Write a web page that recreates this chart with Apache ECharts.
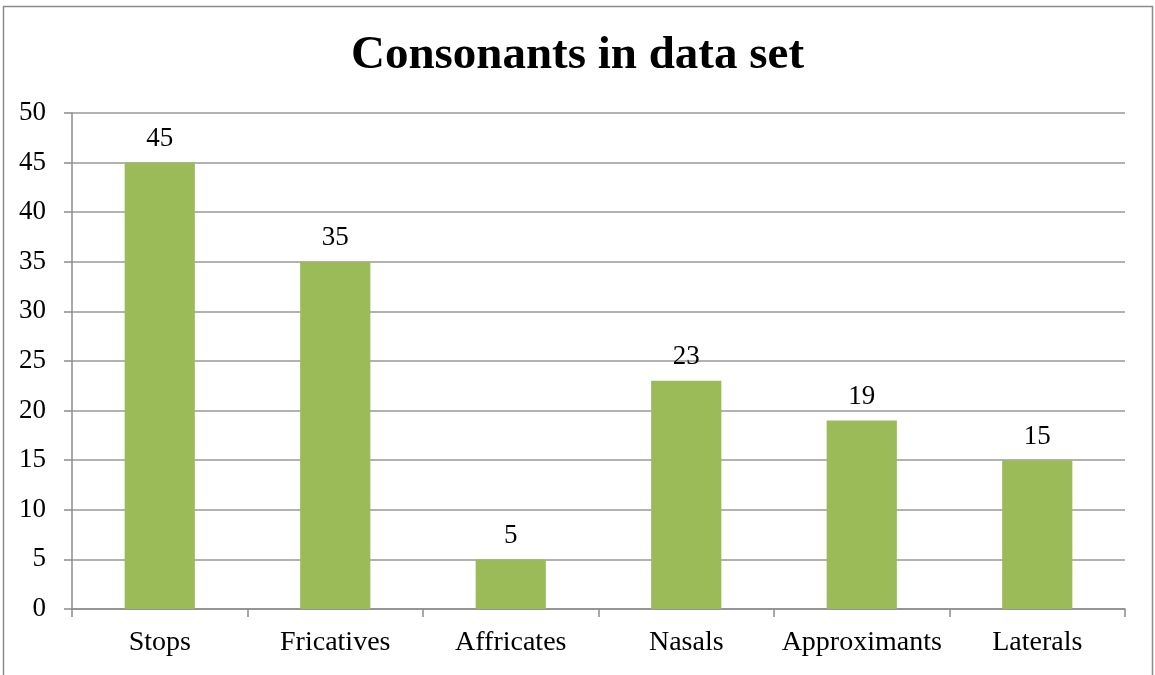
<!DOCTYPE html>
<html><head><meta charset="utf-8">
<script src="https://cdn.jsdelivr.net/npm/echarts@6/dist/echarts.min.js"></script>
<style>html,body{margin:0;padding:0;background:#fff}#c{width:1155px;height:675px}</style>
</head><body><div id="c"></div>
<script>
const categories = ["Stops","Fricatives","Affricates","Nasals","Approximants","Laterals"];
const values = [45,35,5,23,19,15];
const yTicks = [0,5,10,15,20,25,30,35,40,45,50];
const titleText = "Consonants in data set";

const serif = "'Liberation Serif','Times New Roman',serif";
const chart = echarts.init(document.getElementById('c'), null, {renderer:'canvas'});
chart.setOption({
  animation:false,
  backgroundColor:'#fff',
  title:{text:titleText,left:'center',top:27,textStyle:{fontFamily:serif,fontSize:47,fontWeight:'bold',color:'#000'}},
  graphic:[{type:'rect',shape:{x:3.5,y:6.5,width:1149,height:700},style:{fill:'none',stroke:'#8c8c8c',lineWidth:1.5}}],
  grid:{left:72,right:30,top:113,bottom:66,containLabel:false},
  xAxis:{type:'category',data:categories,
    axisLine:{lineStyle:{color:'#8c8c8c',width:1.5}},
    axisTick:{show:true,length:8,lineStyle:{color:'#8c8c8c',width:1.5}},
    axisLabel:{interval:0,hideOverlap:false,fontFamily:serif,fontSize:28,color:'#000',margin:20}},
  yAxis:{type:'value',min:yTicks[0],max:yTicks[yTicks.length-1],interval:5,
    axisLine:{show:true,lineStyle:{color:'#8c8c8c',width:1.5}},
    axisTick:{show:true,length:8,lineStyle:{color:'#8c8c8c',width:1.5}},
    splitLine:{lineStyle:{color:'#999',width:1.5}},
    axisLabel:{fontFamily:serif,fontSize:27,color:'#000',margin:26}},
  series:[{type:'bar',data:values,barWidth:'40%',itemStyle:{color:'#9BBB59'},
    label:{show:true,position:'top',distance:10,fontFamily:serif,fontSize:27,color:'#000'}}]
});
</script></body></html>
